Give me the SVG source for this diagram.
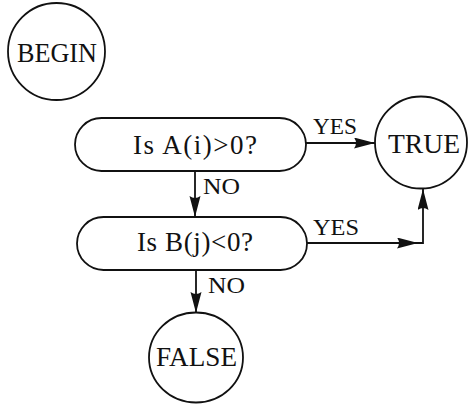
<svg xmlns="http://www.w3.org/2000/svg" width="468" height="404" viewBox="0 0 468 404">
<style>
.shape{fill:none;stroke:#111;stroke-width:1.8}
.line{fill:none;stroke:#111;stroke-width:1.8}
.t{font-family:"Liberation Serif","Times New Roman",serif;fill:#111}
.big{font-size:28px}
.mid{font-size:27px}
.sm{font-size:24px}
</style>
<defs>
<marker id="ah" markerUnits="userSpaceOnUse" markerWidth="22" markerHeight="12" refX="21" refY="5.5" orient="auto">
<path d="M0,0 L21,5.5 L0,11 Q4,5.5 0,0 z" fill="#111"/>
</marker>
</defs>
<rect width="468" height="404" fill="#fff"/>
<g id="begin">
<circle class="shape" cx="56.5" cy="51.5" r="48.5"/>
<text class="t big" x="57" y="62" text-anchor="middle" textLength="80" lengthAdjust="spacingAndGlyphs">BEGIN</text>
</g>
<g id="decisionA">
<rect class="shape" x="75" y="118" width="231" height="53" rx="26.5"/>
<text class="t mid" x="195" y="154" text-anchor="middle" textLength="124">Is A(i)&gt;0?</text>
</g>
<g id="decisionB">
<rect class="shape" x="77" y="217" width="230" height="53" rx="26.5"/>
<text class="t mid" x="195" y="251" text-anchor="middle" textLength="116">Is B(j)&lt;0?</text>
</g>
<g id="true">
<circle class="shape" cx="421" cy="142.5" r="46"/>
<text class="t big" x="424" y="153" text-anchor="middle" textLength="72" lengthAdjust="spacingAndGlyphs">TRUE</text>
</g>
<g id="false">
<ellipse class="shape" cx="196" cy="357.5" rx="47" ry="45"/>
<text class="t big" x="196.5" y="366" text-anchor="middle" textLength="81" lengthAdjust="spacingAndGlyphs">FALSE</text>
</g>
<g id="connectors">
<path class="line" d="M306,143 L375,143" marker-end="url(#ah)"/>
<text class="t sm" x="313" y="134" textLength="44" lengthAdjust="spacingAndGlyphs">YES</text>
<path class="line" d="M195,171 L195,217" marker-end="url(#ah)"/>
<text class="t sm" x="203" y="194" textLength="37" lengthAdjust="spacingAndGlyphs">NO</text>
<path class="line" d="M307,243 L418,243" marker-end="url(#ah)"/>
<path class="line" d="M417,243 L423,243 L423,189" marker-end="url(#ah)"/>
<text class="t sm" x="313" y="235" textLength="46" lengthAdjust="spacingAndGlyphs">YES</text>
<path class="line" d="M196,270 L196,313" marker-end="url(#ah)"/>
<text class="t sm" x="208" y="293" textLength="37" lengthAdjust="spacingAndGlyphs">NO</text>
</g>
</svg>
